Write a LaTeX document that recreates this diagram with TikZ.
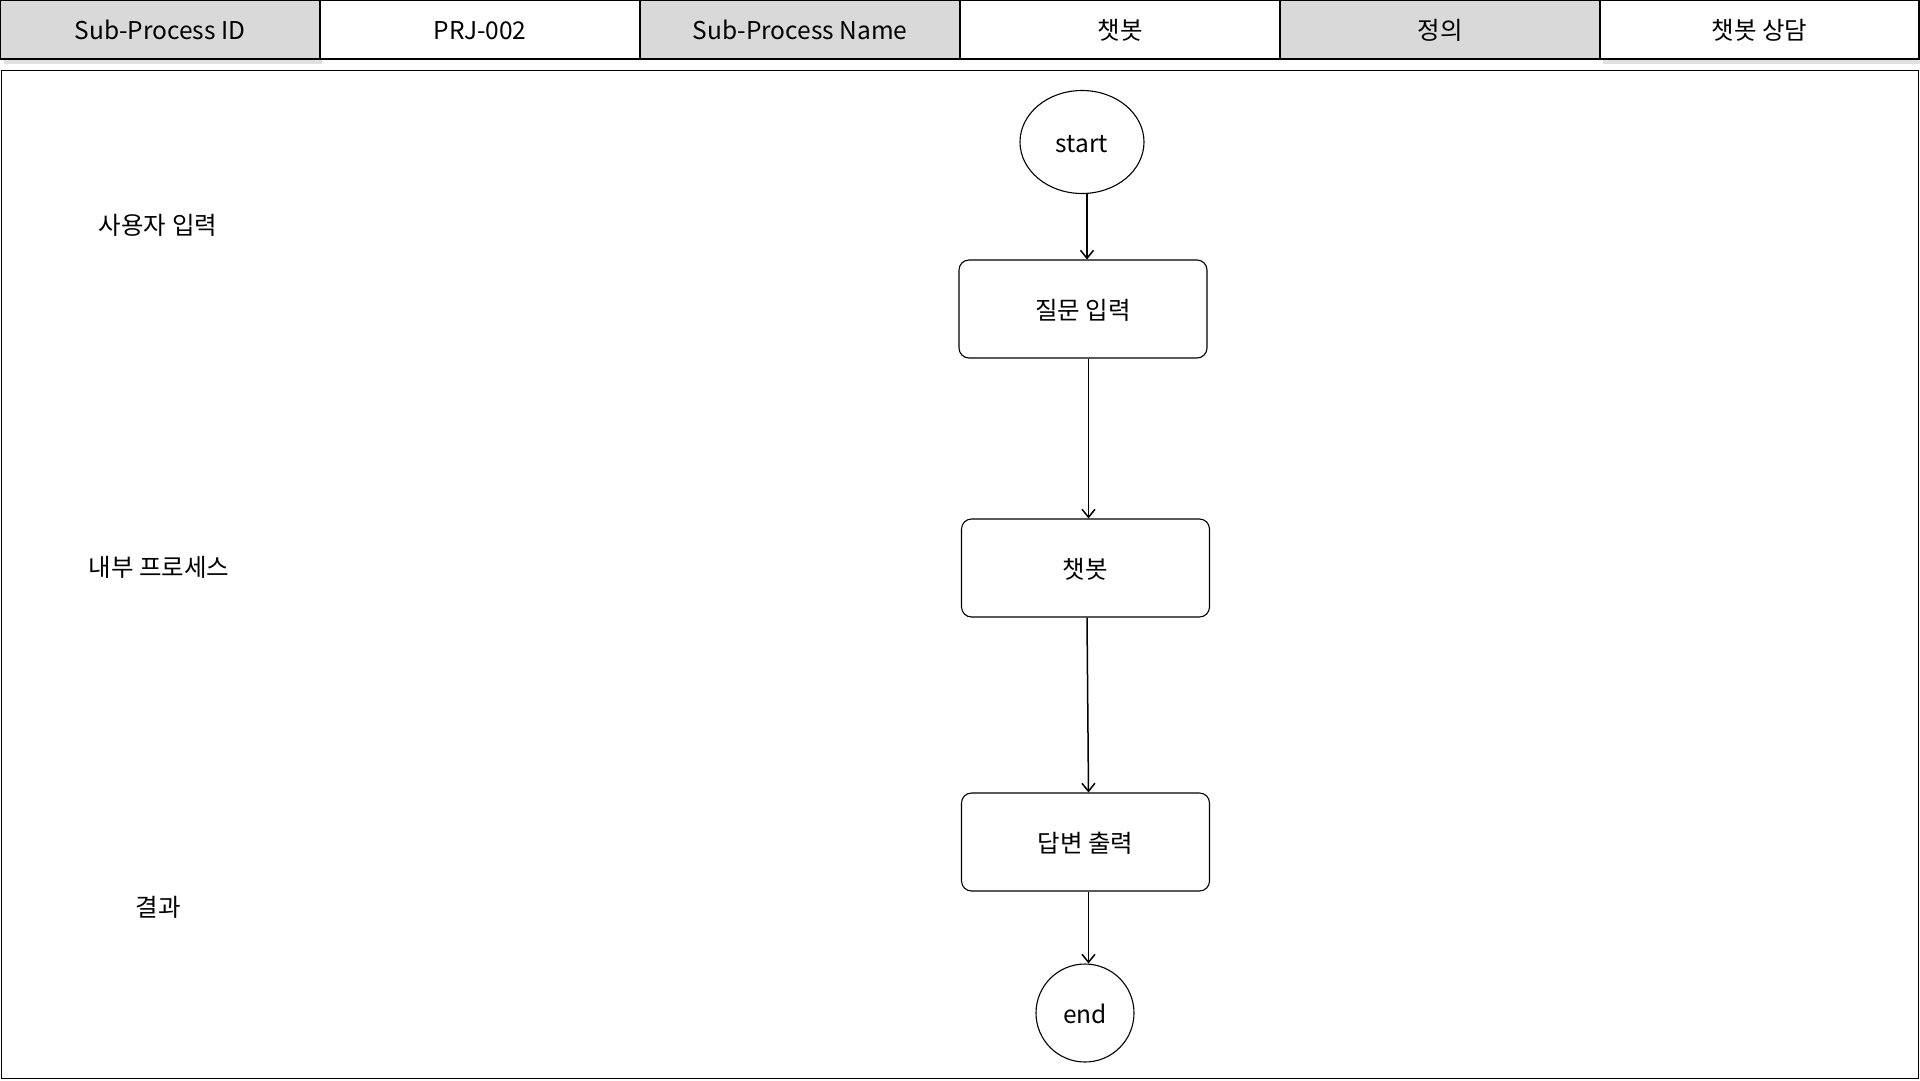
\documentclass[tikz,border=0pt]{standalone}
\usepackage{fontspec}
\setmainfont{Noto Sans CJK KR}
\usetikzlibrary{shapes.geometric,arrows.meta}
\definecolor{hdrgray}{HTML}{D9D9D9}
\begin{document}
\begin{tikzpicture}[x=1pt,y=-1pt,
  font=\fontsize{24.5}{28}\selectfont,
  txt/.style={text height=23pt,text depth=2.5pt},
  hdr/.style={txt,draw=black,line width=1.3pt,minimum width=319pt,minimum height=59pt,inner sep=0pt,anchor=center},
  graycell/.style={hdr,fill=hdrgray},
  whitecell/.style={hdr,fill=white},
  procbox/.style={txt,draw=black,line width=1.1pt,rounded corners=10pt,minimum width=248pt,minimum height=98pt,inner sep=0pt},
  termell/.style={txt,draw=black,line width=1.1pt,ellipse,inner sep=0pt},
  arr/.style={draw=black,line width=1.5pt,-{Straight Barb[length=8pt,width=13pt,line width=1.5pt]}},
  lanelabel/.style={txt,inner sep=0pt}
]
\useasboundingbox (0,0) rectangle (1920,1080);
\fill[white] (0,0) rectangle (1920,1080);
% shadows
\fill[black,opacity=0.12] (4,4) rectangle (322,64);
\fill[black,opacity=0.12] (1603,4) rectangle (1921,64);
% header row
\node[graycell]  (h1) at (160,29.5)  {Sub-Process ID};
\node[whitecell] (h2) at (480,29.5)  {PRJ-002};
\node[graycell]  (h3) at (800,29.5)  {Sub-Process Name};
\node[whitecell] (h4) at (1120,29.5) {챗봇};
\node[graycell]  (h5) at (1440,29.5) {정의};
\node[whitecell] (h6) at (1759.5,29.5) {챗봇 상담};
% main frame
\draw[line width=1.4pt] (1.5,70.5) rectangle (1918.5,1078.5);
% lane labels
\node[lanelabel] (l1) at (158,224) {사용자 입력};
\node[lanelabel] (l2) at (159,566) {내부 프로세스};
\node[lanelabel] (l3) at (158,906) {결과};
% flow
\node[termell,minimum width=124pt,minimum height=103pt] (start) at (1082,142) {start};
\node[procbox] (q) at (1083,309) {질문 입력};
\node[procbox] (bot) at (1085.5,568) {챗봇};
\node[procbox] (ans) at (1085.5,842) {답변 출력};
\node[termell,minimum width=98pt,minimum height=98pt] (end) at (1085,1013) {end};
\draw[arr,line width=2.2pt] ([xshift=5pt]start.south) -- ([xshift=4pt]q.north);
\draw[arr] ([xshift=5.5pt]q.south) -- ([xshift=3pt]bot.north);
\draw[arr] ([xshift=1.5pt]bot.south) -- ([xshift=3pt]ans.north);
\draw[arr] ([xshift=3pt]ans.south) -- ([xshift=3.5pt]end.north);
\end{tikzpicture}
\end{document}
